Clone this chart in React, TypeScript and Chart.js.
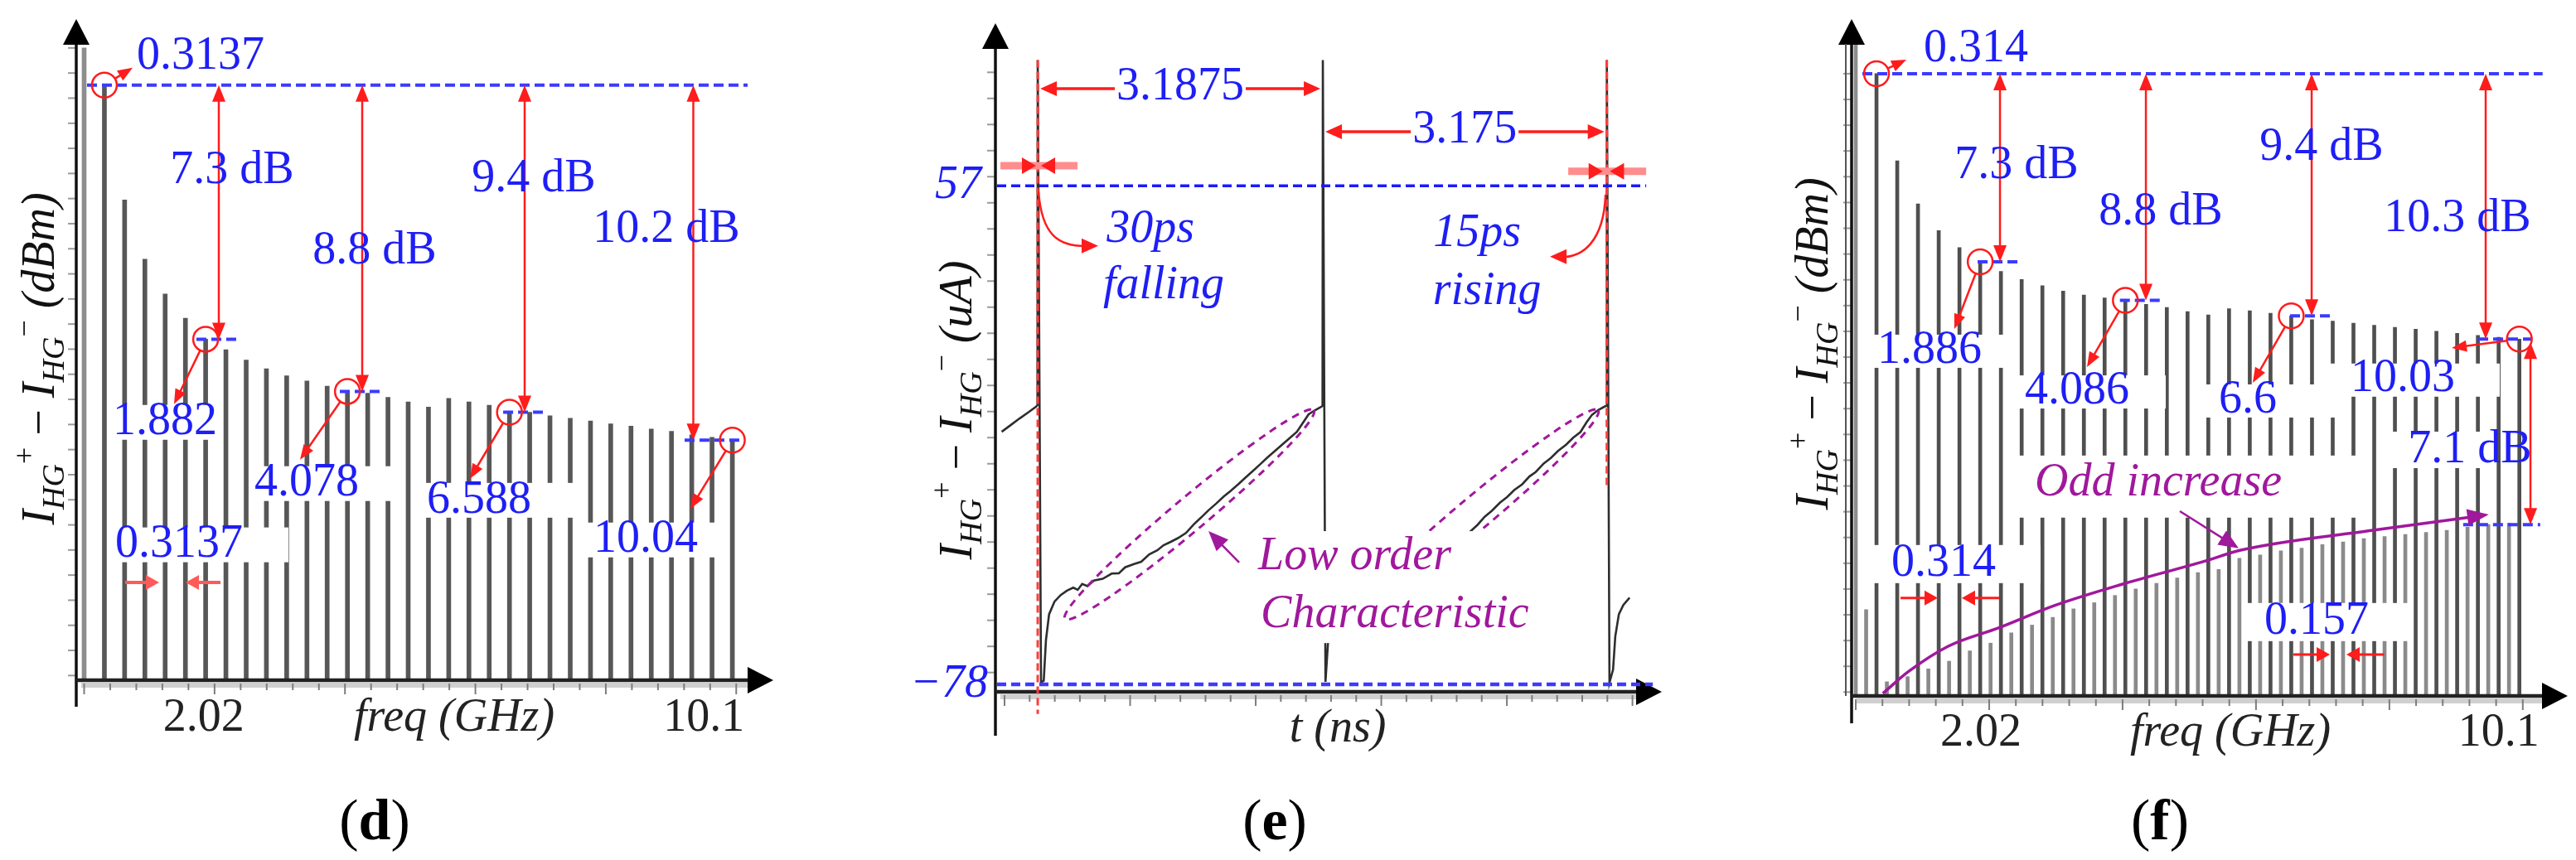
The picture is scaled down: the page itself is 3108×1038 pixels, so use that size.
import React, { useEffect, useRef } from 'react';
import { Chart, registerables } from 'chart.js';

Chart.register(...registerables);

// ======================= DATA =======================
// (d) harmonic spectrum, 0.3137 GHz spacing (relative dB, fundamental = 0)
const D_FREQ_GHZ = [0, 0.314, 0.627, 0.941, 1.255, 1.569, 1.882, 2.196, 2.51, 2.823, 3.137, 3.451, 3.764, 4.078, 4.392, 4.706, 5.019, 5.333, 5.647, 5.96, 6.274, 6.588, 6.901, 7.215, 7.529, 7.843, 8.156, 8.47, 8.784, 9.097, 9.411, 9.725, 10.04];
const D_LEVEL_DB = [1.07, 0, -3.3, -5.0, -6.0, -6.7, -7.3, -7.6, -7.9, -8.15, -8.35, -8.5, -8.65, -8.8, -8.85, -8.97, -9.1, -9.25, -9.0, -9.1, -9.2, -9.4, -9.4, -9.5, -9.57, -9.65, -9.73, -9.8, -9.88, -9.95, -10.05, -10.12, -10.2];
const D_X_TICKS_GHZ = [0, 0.404, 0.808, 1.212, 1.616, 2.02, 2.424, 2.828, 3.232, 3.636, 4.04, 4.444, 4.848, 5.252, 5.656, 6.06, 6.464, 6.868, 7.272, 7.676, 8.08, 8.484, 8.888, 9.292, 9.696, 10.1];
const D_X_TICK_LABELS = ['2.02', '10.1'];
const D_X_TICK_LABEL_GHZ = [2.02, 10.1];
const D_FUND_GHZ = 0.3137;
const D_FUND_LABEL = '0.3137';
const D_MARK_GHZ = [1.882, 4.078, 6.588, 10.04];
const D_MARK_DB = [-7.3, -8.8, -9.4, -10.2];
const D_MARK_LABELS = ['1.882', '4.078', '6.588', '10.04'];
const D_DROP_LABELS = ['7.3 dB', '8.8 dB', '9.4 dB', '10.2 dB'];

// (e) time-domain current
const E_T_NS = [0.07, 0.17, 0.27, 0.37, 0.455, 0.47, 0.473, 0.51, 0.54, 0.565, 0.6, 0.66, 0.73, 0.8, 0.87, 0.92, 0.97, 1.03, 1.1, 1.2, 1.3, 1.38, 1.45, 1.55, 1.63, 1.72, 1.81, 1.88, 1.96, 2.04, 2.13, 2.22, 2.3, 2.38, 2.47, 2.55, 2.63, 2.72, 2.8, 2.87, 2.96, 3.04, 3.12, 3.21, 3.29, 3.37, 3.44, 3.5, 3.57, 3.64, 3.657, 3.6605, 3.69, 3.72, 3.745, 3.775, 3.83, 3.9, 3.97, 4.04, 4.09, 4.14, 4.2, 4.27, 4.37, 4.47, 4.55, 4.62, 4.72, 4.8, 4.89, 4.98, 5.05, 5.13, 5.21, 5.3, 5.39, 5.47, 5.55, 5.64, 5.72, 5.8, 5.89, 5.97, 6.04, 6.13, 6.21, 6.29, 6.38, 6.46, 6.54, 6.61, 6.67, 6.74, 6.81, 6.832, 6.8355, 6.865, 6.905, 6.93, 6.97, 7.02, 7.09];
const E_I_UA = [-9.6, -7.8, -6.0, -4.3, -2.8, -2.4, 91, -77.5, -77, -66, -59, -55.6, -53.8, -52.6, -51.8, -52.4, -50.8, -51.4, -49.9, -49.4, -48.0, -47.9, -46.3, -45.4, -44.8, -42.8, -41.7, -40.3, -39.4, -38.4, -37.0, -34.6, -32.8, -30.9, -29.0, -27.2, -25.6, -23.7, -21.9, -20.4, -18.4, -16.6, -14.9, -13.0, -11.3, -9.6, -7.1, -4.9, -3.8, -2.9, -2.6, 91, -77.3, -66, -60, -57.7, -55.4, -53.9, -52.8, -51.7, -52.2, -50.9, -51.2, -50.0, -49.2, -48.1, -47.6, -46.4, -45.2, -44.6, -42.9, -41.5, -40.5, -39.2, -38.2, -36.8, -34.8, -32.6, -31.0, -28.8, -27.3, -25.4, -23.8, -21.7, -20.5, -18.2, -16.7, -14.8, -13.1, -11.2, -9.7, -7.0, -5.0, -3.7, -2.8, -2.6, 91, -77.5, -74, -65, -59, -56.5, -54.5];
const E_SPIKE_T_NS = [0.473, 3.6605, 6.8355];
const E_SPIKE_TOP_UA = 91;
const E_LEVELS_UA = [57, -78];
const E_LEVEL_LABELS = ['57', '\u221278'];
const E_PERIOD_LABELS = ['3.1875', '3.175'];
const E_X_TICK_START_NS = 0.102;
const E_X_TICK_STEP_NS = 0.2808;
const E_Y_TICK_TOP_UA = 87.7;
const E_Y_TICK_STEP_UA = 7.064;

// (f) spectrum with half-spacing (odd) lines
const F_FREQ_GHZ = [0, 0.314, 0.628, 0.942, 1.256, 1.57, 1.884, 2.198, 2.512, 2.826, 3.14, 3.454, 3.768, 4.082, 4.396, 4.71, 5.024, 5.338, 5.652, 5.966, 6.28, 6.594, 6.908, 7.222, 7.536, 7.85, 8.164, 8.478, 8.792, 9.106, 9.42, 9.734, 10.048];
const F_LEVEL_DB = [1.2, 0, -3.38, -5.05, -6.09, -6.75, -7.3, -7.67, -7.99, -8.23, -8.44, -8.59, -8.7, -8.8, -8.95, -9.07, -9.23, -9.36, -9.12, -9.2, -9.3, -9.4, -9.55, -9.6, -9.68, -9.76, -9.84, -9.92, -10.0, -10.08, -10.16, -10.23, -10.3];
const F_ODD_FREQ_GHZ = [0.157, 0.471, 0.785, 1.099, 1.413, 1.727, 2.041, 2.355, 2.669, 2.983, 3.297, 3.611, 3.925, 4.239, 4.553, 4.867, 5.181, 5.495, 5.809, 6.123, 6.437, 6.751, 7.065, 7.379, 7.693, 8.007, 8.321, 8.635, 8.949, 9.263, 9.577, 9.891];
const F_ODD_LEVEL_DB = [-20.8, -23.6, -23.4, -23.1, -22.8, -22.4, -22.1, -21.7, -21.4, -21.1, -20.77, -20.53, -20.25, -20.0, -19.78, -19.57, -19.36, -19.24, -18.81, -18.68, -18.52, -18.41, -18.28, -18.17, -18.04, -17.96, -17.88, -17.8, -17.72, -17.6, -17.5, -17.45];
const F_ODD_CURVE_GHZ = [0.41, 0.8, 1.4, 2.17, 3.0, 4.04, 5.28, 5.83, 7.83, 9.51];
const F_ODD_CURVE_DB = [-24.05, -23.2, -22.22, -21.5, -20.65, -19.81, -18.92, -18.49, -17.72, -17.14];
const F_X_TICKS_GHZ = D_X_TICKS_GHZ;
const F_X_TICK_LABELS = ['2.02', '10.1'];
const F_X_TICK_LABEL_GHZ = [2.02, 10.1];
const F_FUND_GHZ = 0.314;
const F_FUND_LABEL = '0.314';
const F_MARK_GHZ = [1.884, 4.082, 6.594, 10.048];
const F_MARK_DB = [-7.3, -8.8, -9.4, -10.3];
const F_MARK_LABELS = ['1.886', '4.086', '6.6', '10.03'];
const F_DROP_LABELS = ['7.3 dB', '8.8 dB', '9.4 dB', '10.3 dB'];
const F_ODD_END_DB = -17.5;
const F_ODD_DROP_LABEL = '7.1 dB';

// ======================= LAYOUT / STYLE =======================
const W = 3108;
const H = 1038;
const SERIF = '"Liberation Serif", "Times New Roman", serif';
const BLUE = '#1e1ef5';
const DBLUE = '#3b3bff';
const RED = '#ff1c1c';
const PINK = '#ff8d8d';
const MAG = '#a0189c';
const F56 = `56px ${SERIF}`;
const I56 = `italic 56px ${SERIF}`;

const D_L = {
  area: { left: 92, right: 933, top: 23, bottom: 821 },
  x: [-0.122, 10.674], y: [-17.1, 1.9],
  yTickTop: 1.07, yTickStep: 0.7214, yTickCount: 26, yExtend: 32,
  refLine: [0.045, 10.276],
  fundTip: [0.751, 0.5], fundLabel: [1.803, 0.833],
  markLabel: [[1.252, -9.69], [3.447, -11.45], [6.117, -11.93], [8.697, -13.07]],
  markBox: [[5, 4], [4, 40], [16, 54], [12, 30]],
  markTip: [[1.393, -9.167], [3.344, -10.762], [5.976, -11.31], [9.39, -12.17]],
  markDash: [[1.739, 2.394], [3.96, 4.576], [6.49, 7.105], [9.3, 10.225]],
  dropX: [2.086, 4.307, 6.823, 9.435],
  dropLabel: [[2.291, -2.476], [4.499, -4.762], [6.964, -2.714], [9.018, -4.143]],
  spLabel: [1.47, -13.21], spBox: [8, 55], spDb: -14.29, spLeft: [0.635, 1.162], spRight: [2.112, 1.573],
  tickShift: [-13, -39], tickBase: 882, xTitle: [548, 882],
  yTitle: [46, 433], caption: [452, 993],
};

const E_L = {
  area: { left: 1201, right: 2005, top: 28, bottom: 835 },
  x: [0, 7.45], y: [-80, 101], yExtend: 53,
  levelEnd: [7.275, 7.35],
  levelLabelRight: [1184, 1192],
  spikeDashBottom: [-86, null, -25],
  periodUA: [83.3, 71.6], periodLabelT: [2.067, 5.246],
  edge: [
    { ua: 62.4, from: 0.056, to: 0.918, tipL: 0.454, tipR: 0.51 },
    { ua: 60.9, from: 6.404, to: 7.275, tipL: 6.79, tipR: 6.87 },
  ],
  edgeText: [['30ps', 1.733, 45.2], ['falling', 1.881, 29.9], ['15ps', 5.385, 44.0], ['rising', 5.496, 28.3]],
  curve1: [[0.482, 55.3], [1.149, 40.7]],
  curve2: [[6.821, 54.6], [6.2, 37.8]],
  ellipses: [[2.169, -32.0], [5.348, -32.0]],
  box: [2.753, 6.061, -36.5, -66.8],
  lowText: [['Low order', 2.938, -43.5], ['Characteristic', 2.966, -59.2]],
  pointer: [[2.725, -45.0], [2.382, -36.5]],
  xTitle: [1614, 895], yTitle: [1153, 495], caption: [1538, 993],
};

const F_L = {
  area: { left: 2234, right: 3098, top: 23, bottom: 840 },
  x: [-0.063, 10.78], y: [-24.15, 2.12],
  yTickTop: 0, yTickStep: 1, yTickCount: 25, yExtend: 33,
  refLine: [0.1, 10.4],
  fundTip: [0.766, 0.547], fundLabel: [1.82, 0.965],
  markLabel: [[1.117, -10.74], [3.351, -12.32], [5.936, -12.67], [8.283, -11.86]],
  markBox: [[22, 29], [9, 44], [27, 89], [27, 54]],
  markTip: [[1.493, -9.904], [3.501, -11.383], [6.011, -11.994], [9.024, -10.643]],
  markDash: [[1.845, 2.472], [4.0, 4.656], [6.576, 7.229], [9.425, 10.241]],
  dropX: [2.184, 4.393, 6.903, 9.538],
  dropLabel: [[2.434, -3.569], [4.618, -5.37], [7.053, -2.862], [9.11, -5.627]],
  oddDropX: 10.216, oddDash: [9.197, 10.364], oddDropLabel: [9.298, -14.6],
  spLabels: [['0.314', 1.33, -19.0, 22, 54], ['0.157', 6.978, -21.25, 25, 48]],
  spArrows: [[-20.35, 0.678, 1.242, 2.171, 1.606], [-22.54, 6.627, 7.179, 8.0, 7.43]],
  oddBox: [2.435, 7.794, -14.82, -17.23], oddText: [4.581, -15.88],
  pointer: [[4.907, -16.98], [5.798, -18.42]],
  tickShift: [-10, -29], tickBase: 900, xTitle: [2691, 900],
  yTitle: [2186, 415], caption: [2606, 993],
};

// ======================= DRAW HELPERS =======================
function seg(ctx: any, x1: number, y1: number, x2: number, y2: number, color: string, w: number, dash: number[] = []) {
  ctx.save();
  ctx.strokeStyle = color; ctx.lineWidth = w; ctx.setLineDash(dash); ctx.lineCap = 'butt';
  ctx.beginPath(); ctx.moveTo(x1, y1); ctx.lineTo(x2, y2); ctx.stroke();
  ctx.restore();
}
function head(ctx: any, x: number, y: number, ang: number, color: string, len = 18, half = 7) {
  ctx.save();
  ctx.fillStyle = color; ctx.translate(x, y); ctx.rotate(ang);
  ctx.beginPath(); ctx.moveTo(0, 0); ctx.lineTo(-len, -half); ctx.lineTo(-len, half); ctx.closePath(); ctx.fill();
  ctx.restore();
}
function arrow(ctx: any, x1: number, y1: number, x2: number, y2: number, color: string, w = 2.5, len = 18, half = 7) {
  const a = Math.atan2(y2 - y1, x2 - x1);
  seg(ctx, x1, y1, x2 - Math.cos(a) * len * 0.7, y2 - Math.sin(a) * len * 0.7, color, w);
  head(ctx, x2, y2, a, color, len, half);
}
function dbl(ctx: any, x: number, y1: number, y2: number, color: string, w = 2.5) {
  seg(ctx, x, y1 + 14, x, y2 - 14, color, w);
  head(ctx, x, y1, -Math.PI / 2, color, 20, 8);
  head(ctx, x, y2, Math.PI / 2, color, 20, 8);
}
function text(ctx: any, s: string, x: number, y: number, font: string, color: string, align = 'center', base = 'middle') {
  ctx.save();
  ctx.font = font; ctx.fillStyle = color; ctx.textAlign = align; ctx.textBaseline = base;
  ctx.fillText(s, x, y);
  ctx.restore();
}
function white(ctx: any, x1: number, y1: number, x2: number, y2: number) {
  ctx.save(); ctx.fillStyle = '#ffffff'; ctx.fillRect(x1, y1, x2 - x1, y2 - y1); ctx.restore();
}
function labelBox(ctx: any, s: string, x: number, y: number, padL: number, padR: number, up = 21, down = 21) {
  ctx.save(); ctx.font = F56; const w = ctx.measureText(s).width; ctx.restore();
  white(ctx, x - w / 2 - padL, y - up, x + w / 2 + padR, y + down);
}
function circle(ctx: any, x: number, y: number, r: number, color: string) {
  ctx.save(); ctx.strokeStyle = color; ctx.lineWidth = 2.5;
  ctx.beginPath(); ctx.arc(x, y, r, 0, Math.PI * 2); ctx.stroke(); ctx.restore();
}
function tri(ctx: any, p: number[][], color: string) {
  ctx.save(); ctx.fillStyle = color; ctx.beginPath(); ctx.moveTo(p[0][0], p[0][1]);
  ctx.lineTo(p[1][0], p[1][1]); ctx.lineTo(p[2][0], p[2][1]); ctx.closePath(); ctx.fill(); ctx.restore();
}
function leader(ctx: any, cx: number, cy: number, tx: number, ty: number, r: number) {
  const a = Math.atan2(ty - cy, tx - cx);
  arrow(ctx, cx + Math.cos(a) * r, cy + Math.sin(a) * r, tx, ty, RED, 2.5, 18, 7);
}
function drawAxes(ctx: any, area: any, X: any, Y: any, yTicks: number[], xTicks: number[], yExtend: number) {
  const L = area.left, R = area.right, T = area.top, B = area.bottom;
  for (const v of yTicks) { const py = Y(v); seg(ctx, L - 10, py, L - 1, py, '#9a9a9a', 2); }
  seg(ctx, L + 6, B + 6, R - 30, B + 6, '#d0d0d0', 6);
  xTicks.forEach((v, i) => { const px = X(v); seg(ctx, px, B + 4, px, B + (i % 5 === 0 ? 17 : 12), '#7d7d7d', 2); });
  seg(ctx, L, B + yExtend, L, T + 26, '#111', 3.5);
  tri(ctx, [[L, T], [L - 16, T + 31], [L + 16, T + 31]], '#000');
  seg(ctx, L, B, R - 26, B, '#222', 4.5);
  tri(ctx, [[R, B], [R - 31, B - 16], [R - 31, B + 16]], '#000');
}
function yTitle(ctx: any, cx: number, cy: number, unit: string) {
  const big = `italic 56px ${SERIF}`, sub = `italic 38px ${SERIF}`, sup = `36px ${SERIF}`, reg = `56px ${SERIF}`;
  const parts: any[] = [['I', big, 0], ['HG', sub, 12], ['+', sup, -24], [' \u2212 ', reg, 0], ['I', big, 0], ['HG', sub, 12], ['\u2212', sup, -24], [' (' + unit + ')', big, 0]];
  ctx.save(); ctx.translate(cx, cy); ctx.rotate(-Math.PI / 2);
  ctx.fillStyle = '#111'; ctx.textBaseline = 'alphabetic'; ctx.textAlign = 'left';
  let total = 0;
  for (const p of parts) { ctx.font = p[1]; total += ctx.measureText(p[0]).width; }
  let x = -total / 2;
  for (const p of parts) { ctx.font = p[1]; ctx.fillText(p[0], x, 19 + p[2]); x += ctx.measureText(p[0]).width; }
  ctx.restore();
}
function caption(ctx: any, letter: string, cx: number, cy: number) {
  const reg = `70px ${SERIF}`, bold = `bold 70px ${SERIF}`;
  const parts = [['(', reg], [letter, bold], [')', reg]];
  ctx.save(); ctx.fillStyle = '#000'; ctx.textBaseline = 'alphabetic'; ctx.textAlign = 'left';
  let total = 0;
  for (const p of parts) { ctx.font = p[1]; total += ctx.measureText(p[0]).width; }
  let x = cx - total / 2;
  for (const p of parts) { ctx.font = p[1]; ctx.fillText(p[0], x, cy + 20); x += ctx.measureText(p[0]).width; }
  ctx.restore();
}
function scalers(chart: any) {
  const xs = chart.scales.x, ys = chart.scales.y;
  return { ctx: chart.ctx, area: chart.chartArea, X: (v: number) => xs.getPixelForValue(v), Y: (v: number) => ys.getPixelForValue(v) };
}
function ticksFrom(top: number, step: number, n: number) {
  const out: number[] = [];
  for (let i = 0; i < n; i++) out.push(top - i * step);
  return out;
}

// ----- shared spectrum annotations (d and f) -----
function drawSpectrumCommon(ctx: any, X: any, Y: any, L: any, fundGhz: number, fundLabel: string, markGhz: number[], markDb: number[], markLabels: string[], dropLabels: string[]) {
  const y0 = Y(0);
  seg(ctx, X(L.refLine[0]), y0, X(L.refLine[1]), y0, DBLUE, 4, [12, 6]);
  markDb.forEach((db, i) => seg(ctx, X(L.markDash[i][0]), Y(db), X(L.markDash[i][1]), Y(db), DBLUE, 4, [12, 6]));
  L.dropX.forEach((x: number, i: number) => dbl(ctx, X(x), y0, Y(markDb[i]), RED, 2.5));
  // fundamental
  const fx = X(fundGhz);
  circle(ctx, fx, y0, 15, RED);
  leader(ctx, fx, y0, X(L.fundTip[0]), Y(L.fundTip[1]), 15);
  text(ctx, fundLabel, X(L.fundLabel[0]), Y(L.fundLabel[1]), F56, BLUE);
  markGhz.forEach((g, i) => {
    const cx = X(g), cy = Y(markDb[i]);
    circle(ctx, cx, cy, 15, RED);
    leader(ctx, cx, cy, X(L.markTip[i][0]), Y(L.markTip[i][1]), 15);
    text(ctx, markLabels[i], X(L.markLabel[i][0]), Y(L.markLabel[i][1]), F56, BLUE);
  });
  dropLabels.forEach((s, i) => text(ctx, s, X(L.dropLabel[i][0]), Y(L.dropLabel[i][1]), F56, BLUE));
}

// ======================= PANEL (d) =======================
function drawD(chart: any) {
  const { ctx, area, X, Y } = scalers(chart);
  const L = D_L;
  D_MARK_LABELS.forEach((s, i) => labelBox(ctx, s, X(L.markLabel[i][0]), Y(L.markLabel[i][1]), L.markBox[i][0], L.markBox[i][1]));
  labelBox(ctx, D_FUND_LABEL, X(L.spLabel[0]), Y(L.spLabel[1]), L.spBox[0], L.spBox[1]);
  drawAxes(ctx, area, X, Y, ticksFrom(L.yTickTop, L.yTickStep, L.yTickCount), D_X_TICKS_GHZ, L.yExtend);
  drawSpectrumCommon(ctx, X, Y, L, D_FUND_GHZ, D_FUND_LABEL, D_MARK_GHZ, D_MARK_DB, D_MARK_LABELS, D_DROP_LABELS);
  // spacing marker
  text(ctx, D_FUND_LABEL, X(L.spLabel[0]), Y(L.spLabel[1]), F56, BLUE);
  const sy = Y(L.spDb);
  arrow(ctx, X(L.spLeft[0]), sy, X(L.spLeft[1]), sy, '#ff5a5a', 4, 16, 9);
  arrow(ctx, X(L.spRight[0]), sy, X(L.spRight[1]), sy, '#ff5a5a', 4, 16, 9);
  // tick labels / titles
  D_X_TICK_LABEL_GHZ.forEach((v, i) => text(ctx, D_X_TICK_LABELS[i], X(v) + L.tickShift[i], L.tickBase, F56, '#222', 'center', 'alphabetic'));
  text(ctx, 'freq (GHz)', L.xTitle[0], L.xTitle[1], I56, '#222', 'center', 'alphabetic');
  yTitle(ctx, L.yTitle[0], L.yTitle[1], 'dBm');
  caption(ctx, 'd', L.caption[0], L.caption[1]);
}

// ======================= PANEL (e) =======================
function drawE(chart: any) {
  const { ctx, area, X, Y } = scalers(chart);
  const L = E_L;
  // ellipses (partly hidden by the label box)
  L.ellipses.forEach((c) => {
    ctx.save(); ctx.strokeStyle = MAG; ctx.lineWidth = 3; ctx.setLineDash([9, 7]);
    ctx.beginPath(); ctx.ellipse(X(c[0]), Y(c[1]), 196, 20, -40 * Math.PI / 180, 0, Math.PI * 2); ctx.stroke(); ctx.restore();
  });
  white(ctx, X(L.box[0]), Y(L.box[2]), X(L.box[1]), Y(L.box[3]));
  const xTicks: number[] = [];
  for (let i = 0; i < 26; i++) xTicks.push(E_X_TICK_START_NS + i * E_X_TICK_STEP_NS);
  drawAxes(ctx, area, X, Y, ticksFrom(E_Y_TICK_TOP_UA, E_Y_TICK_STEP_UA, 24), xTicks, L.yExtend);
  // level lines + labels
  E_LEVELS_UA.forEach((v, i) => {
    seg(ctx, area.left + 2, Y(v), X(L.levelEnd[i]), Y(v), i === 0 ? '#1a1aff' : DBLUE, i === 0 ? 3.5 : 4.5, [11, 6]);
    text(ctx, E_LEVEL_LABELS[i], L.levelLabelRight[i], Y(v), I56, BLUE, 'right');
  });
  // red dashed edge markers
  [0, 2].forEach((k) => seg(ctx, X(E_SPIKE_T_NS[k]), Y(E_SPIKE_TOP_UA), X(E_SPIKE_T_NS[k]), Y(L.spikeDashBottom[k] as number), '#ff3c3c', 3, [9, 5]));
  // period arrows
  E_PERIOD_LABELS.forEach((s, i) => {
    const y = Y(L.periodUA[i]);
    const xa = X(E_SPIKE_T_NS[i]), xb = X(E_SPIKE_T_NS[i + 1]), cx = X(L.periodLabelT[i]);
    ctx.save(); ctx.font = F56; const w = ctx.measureText(s).width; ctx.restore();
    arrow(ctx, cx - w / 2 - 2, y, xa + 3, y, RED, 3.5, 20, 9);
    arrow(ctx, cx + w / 2 + 2, y, xb - 3, y, RED, 3.5, 20, 9);
    text(ctx, s, cx, y - 2, F56, BLUE);
  });
  // edge width markers
  L.edge.forEach((e) => {
    const y = Y(e.ua);
    seg(ctx, X(e.from), y, X(e.to), y, PINK, 9);
    head(ctx, X(e.tipL), y, 0, RED, 17, 10);
    head(ctx, X(e.tipR), y, Math.PI, RED, 17, 10);
  });
  // curved arrows
  const c1a = [X(L.curve1[0][0]), Y(L.curve1[0][1])], c1b = [X(L.curve1[1][0]), Y(L.curve1[1][1])];
  ctx.save(); ctx.strokeStyle = RED; ctx.lineWidth = 2.5; ctx.beginPath();
  ctx.moveTo(c1a[0], c1a[1]); ctx.bezierCurveTo(c1a[0] + 4, c1a[1] + 50, c1b[0] - 50, c1b[1] + 2, c1b[0] - 10, c1b[1]); ctx.stroke(); ctx.restore();
  head(ctx, c1b[0], c1b[1], 0, RED, 20, 9);
  const c2a = [X(L.curve2[0][0]), Y(L.curve2[0][1])], c2b = [X(L.curve2[1][0]), Y(L.curve2[1][1])];
  ctx.save(); ctx.strokeStyle = RED; ctx.lineWidth = 2.5; ctx.beginPath();
  ctx.moveTo(c2a[0], c2a[1]); ctx.bezierCurveTo(c2a[0] - 2, c2a[1] + 55, c2b[0] + 40, c2b[1] + 3, c2b[0] + 10, c2b[1]); ctx.stroke(); ctx.restore();
  head(ctx, c2b[0], c2b[1], Math.PI, RED, 20, 9);
  L.edgeText.forEach((t) => text(ctx, t[0] as string, X(t[1] as number), Y(t[2] as number), I56, BLUE));
  // low-order label + pointer
  arrow(ctx, X(L.pointer[0][0]), Y(L.pointer[0][1]), X(L.pointer[1][0]), Y(L.pointer[1][1]), MAG, 2.5, 24, 10);
  L.lowText.forEach((t) => text(ctx, t[0] as string, X(t[1] as number), Y(t[2] as number), I56, MAG, 'left'));
  text(ctx, 't (ns)', L.xTitle[0], L.xTitle[1], I56, '#222', 'center', 'alphabetic');
  yTitle(ctx, L.yTitle[0], L.yTitle[1], 'uA');
  caption(ctx, 'e', L.caption[0], L.caption[1]);
}

// ======================= PANEL (f) =======================
function drawF(chart: any) {
  const { ctx, area, X, Y } = scalers(chart);
  const L = F_L;
  F_MARK_LABELS.forEach((s, i) => labelBox(ctx, s, X(L.markLabel[i][0]), Y(L.markLabel[i][1]), L.markBox[i][0], L.markBox[i][1], 19, 21));
  L.spLabels.forEach((s: any) => labelBox(ctx, s[0], X(s[1]), Y(s[2]), s[3], s[4], 22, 24));
  labelBox(ctx, F_ODD_DROP_LABEL, X(L.oddDropLabel[0]), Y(L.oddDropLabel[1]), 22, -58, 22, 22);
  white(ctx, X(L.oddBox[0]), Y(L.oddBox[2]), X(L.oddBox[1]), Y(L.oddBox[3]));
  drawAxes(ctx, area, X, Y, ticksFrom(L.yTickTop, L.yTickStep, L.yTickCount), F_X_TICKS_GHZ, L.yExtend);
  seg(ctx, area.left - 7, area.bottom, area.left - 7, area.top + 30, '#555', 2);
  drawSpectrumCommon(ctx, X, Y, L, F_FUND_GHZ, F_FUND_LABEL, F_MARK_GHZ, F_MARK_DB, F_MARK_LABELS, F_DROP_LABELS);
  // 7.1 dB odd drop
  const lastDb = F_MARK_DB[F_MARK_DB.length - 1];
  dbl(ctx, X(L.oddDropX), Y(lastDb) + 4, Y(F_ODD_END_DB), RED, 2.5);
  seg(ctx, X(L.oddDash[0]), Y(F_ODD_END_DB), X(L.oddDash[1]), Y(F_ODD_END_DB), DBLUE, 4, [12, 6]);
  text(ctx, F_ODD_DROP_LABEL, X(L.oddDropLabel[0]), Y(L.oddDropLabel[1]), F56, BLUE);
  // spacing markers
  L.spLabels.forEach((s: any) => text(ctx, s[0], X(s[1]), Y(s[2]), F56, BLUE));
  L.spArrows.forEach((a: any) => {
    const y = Y(a[0]);
    arrow(ctx, X(a[1]), y, X(a[2]), y, RED, 3, 16, 9);
    arrow(ctx, X(a[3]), y, X(a[4]), y, RED, 3, 16, 9);
  });
  // odd increase curve arrowhead + pointer + label
  const n = F_ODD_CURVE_GHZ.length;
  const ex = X(F_ODD_CURVE_GHZ[n - 1]), ey = Y(F_ODD_CURVE_DB[n - 1]);
  const px = X(F_ODD_CURVE_GHZ[n - 2]), py = Y(F_ODD_CURVE_DB[n - 2]);
  head(ctx, ex + 6, ey - 1, Math.atan2(ey - py, ex - px), MAG, 26, 10);
  arrow(ctx, X(L.pointer[0][0]), Y(L.pointer[0][1]), X(L.pointer[1][0]), Y(L.pointer[1][1]), MAG, 2.5, 24, 10);
  text(ctx, 'Odd increase', X(L.oddText[0]), Y(L.oddText[1]), I56, MAG);
  F_X_TICK_LABEL_GHZ.forEach((v, i) => text(ctx, F_X_TICK_LABELS[i], X(v) + L.tickShift[i], L.tickBase, F56, '#222', 'center', 'alphabetic'));
  text(ctx, 'freq (GHz)', L.xTitle[0], L.xTitle[1], I56, '#222', 'center', 'alphabetic');
  yTitle(ctx, L.yTitle[0], L.yTitle[1], 'dBm');
  caption(ctx, 'f', L.caption[0], L.caption[1]);
}

// ======================= CHART CONFIGS =======================
function baseOptions(area: any, xr: number[], yr: number[]) {
  return {
    responsive: false,
    animation: false,
    devicePixelRatio: 1,
    events: [],
    layout: { padding: { left: area.left, right: W - area.right, top: area.top, bottom: H - area.bottom } },
    plugins: { legend: { display: false }, tooltip: { enabled: false } },
    scales: {
      x: { type: 'linear', display: false, min: xr[0], max: xr[1], offset: false },
      y: { type: 'linear', display: false, min: yr[0], max: yr[1] },
    },
  };
}

function buildD() {
  return {
    type: 'bar',
    data: {
      datasets: [{
        data: D_FREQ_GHZ.map((f, i) => ({ x: f, y: D_LEVEL_DB[i] })),
        backgroundColor: D_FREQ_GHZ.map((_, i) => (i === 0 ? '#8d8d8d' : '#575757')),
        barThickness: 5, maxBarThickness: 5, grouped: false, base: D_L.y[0], borderWidth: 0,
      }],
    },
    options: baseOptions(D_L.area, D_L.x, D_L.y),
    plugins: [{ id: 'annD', afterDatasetsDraw: drawD }],
  };
}

function buildE() {
  return {
    type: 'line',
    data: {
      datasets: [{
        data: E_T_NS.map((t, i) => ({ x: t, y: E_I_UA[i] })),
        borderColor: '#2e2e2e', borderWidth: 2.6, pointRadius: 0, tension: 0, fill: false,
      }],
    },
    options: baseOptions(E_L.area, E_L.x, E_L.y),
    plugins: [{ id: 'annE', afterDatasetsDraw: drawE }],
  };
}

function buildF() {
  return {
    type: 'bar',
    data: {
      datasets: [
        {
          type: 'line',
          data: F_ODD_CURVE_GHZ.map((f, i) => ({ x: f, y: F_ODD_CURVE_DB[i] })),
          borderColor: MAG, borderWidth: 3.5, pointRadius: 0, cubicInterpolationMode: 'monotone', fill: false,
        },
        {
          data: F_FREQ_GHZ.map((f, i) => ({ x: f, y: F_LEVEL_DB[i] })),
          backgroundColor: F_FREQ_GHZ.map((_, i) => (i === 0 ? '#8d8d8d' : '#4f4f4f')),
          barThickness: 4, maxBarThickness: 4, grouped: false, base: F_L.y[0], borderWidth: 0,
        },
        {
          data: F_ODD_FREQ_GHZ.map((f, i) => ({ x: f, y: F_ODD_LEVEL_DB[i] })),
          backgroundColor: '#8a8a8a',
          barThickness: 4, maxBarThickness: 4, grouped: false, base: F_L.y[0], borderWidth: 0,
        },
      ],
    },
    options: baseOptions(F_L.area, F_L.x, F_L.y),
    plugins: [{ id: 'annF', afterDatasetsDraw: drawF }],
  };
}

function ChartCanvas({ build }: { build: () => any }) {
  const ref = useRef<HTMLCanvasElement | null>(null);
  useEffect(() => {
    const chart = new Chart(ref.current as HTMLCanvasElement, build());
    return () => chart.destroy();
  }, [build]);
  return <canvas ref={ref} width={W} height={H} style={{ position: 'absolute', left: 0, top: 0, width: W, height: H }} />;
}

export default function App() {
  return (
    <div style={{ position: 'absolute', left: 0, top: 0, width: W, height: H, background: '#ffffff', overflow: 'hidden' }}>
      <ChartCanvas build={buildD} />
      <ChartCanvas build={buildE} />
      <ChartCanvas build={buildF} />
    </div>
  );
}
